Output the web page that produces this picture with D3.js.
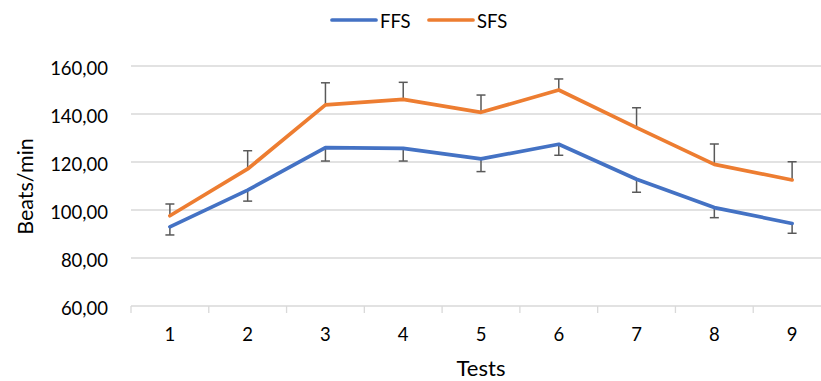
<!DOCTYPE html>
<html>
<head>
<meta charset="utf-8">
<script src="https://cdn.jsdelivr.net/npm/d3@7"></script>
<style>
  body { margin: 0; background: #fff; }
  svg { display: block; font-family: Lato, "Open Sans", sans-serif; }
</style>
</head>
<body>
<div id="chart"></div>
<script>
// chart values
var tests = ["1", "2", "3", "4", "5", "6", "7", "8", "9"];
var ffs = [93.0, 108.3, 126.0, 125.7, 121.3, 127.4, 112.8, 101.0, 94.4];
var ffsSd = [3.4, 4.6, 5.6, 5.3, 5.3, 4.6, 5.4, 4.2, 4.1];
var sfs = [97.6, 117.1, 143.8, 146.1, 140.7, 150.0, 134.3, 119.0, 112.5];
var sfsSd = [4.9, 7.6, 9.2, 7.1, 7.2, 4.6, 8.3, 8.5, 7.6];
var yTicks = [60, 80, 100, 120, 140, 160];

var width = 821, height = 381;
var plot = { left: 131, right: 831, top: 66, bottom: 306 };

var svg = d3.select("#chart").append("svg")
    .attr("width", width)
    .attr("height", height);

var x = d3.scaleBand()
    .domain(tests)
    .range([plot.left, plot.right]);

var y = d3.scaleLinear()
    .domain([60, 160])
    .range([plot.bottom, plot.top]);

var fmt = function(v) { return d3.format(".2f")(v).replace(".", ","); };

// gridlines
svg.append("g")
  .selectAll("line")
  .data(yTicks)
  .enter().append("line")
    .attr("x1", plot.left)
    .attr("x2", plot.right)
    .attr("y1", function(d) { return y(d); })
    .attr("y2", function(d) { return y(d); })
    .style("stroke", "#d9d9d9")
    .style("stroke-width", 1.3);

// y tick labels
svg.append("g")
  .selectAll("text")
  .data(yTicks)
  .enter().append("text")
    .attr("x", 108)
    .attr("y", function(d) { return y(d) + 8.5; })
    .attr("text-anchor", "end")
    .style("font-size", "18.5px")
    .style("fill", "#000")
    .text(fmt);

// x tick labels
svg.append("g")
  .selectAll("text")
  .data(tests)
  .enter().append("text")
    .attr("x", function(d) { return x(d) + x.bandwidth() / 2; })
    .attr("y", plot.bottom + 34.5)
    .attr("text-anchor", "middle")
    .style("font-size", "18.5px")
    .style("fill", "#000")
    .text(function(d) { return d; });

// small ticks between categories
var bounds = tests.map(function(d) { return x(d); }).concat([plot.right]);
svg.append("g")
  .selectAll("line")
  .data(bounds)
  .enter().append("line")
    .attr("x1", function(d) { return d; })
    .attr("x2", function(d) { return d; })
    .attr("y1", plot.bottom)
    .attr("y2", plot.bottom + 7)
    .style("stroke", "#d9d9d9")
    .style("stroke-width", 1.3);

// axis titles
svg.append("text")
    .attr("x", x("5") + x.bandwidth() / 2)
    .attr("y", 376)
    .attr("text-anchor", "middle")
    .style("font-size", "22px")
    .text("Tests");

svg.append("text")
    .attr("transform", "translate(33,186.5) rotate(-90)")
    .attr("text-anchor", "middle")
    .style("font-size", "21.5px")
    .text("Beats/min");

var cx = function(d, i) { return x(tests[i]) + x.bandwidth() / 2; };

// error bars: FFS below, SFS above
function errorBars(values, sds, dir) {
  var g = svg.append("g")
    .style("stroke", "#595959")
    .style("stroke-width", 1.5);
  g.selectAll(".bar")
    .data(values)
    .enter().append("line")
      .attr("x1", cx).attr("x2", cx)
      .attr("y1", function(d) { return y(d); })
      .attr("y2", function(d, i) { return y(d + dir * sds[i]); });
  g.selectAll(".cap")
    .data(values)
    .enter().append("line")
      .attr("x1", function(d, i) { return cx(d, i) - 4.5; })
      .attr("x2", function(d, i) { return cx(d, i) + 4.5; })
      .attr("y1", function(d, i) { return y(d + dir * sds[i]); })
      .attr("y2", function(d, i) { return y(d + dir * sds[i]); });
}
errorBars(ffs, ffsSd, -1);
errorBars(sfs, sfsSd, 1);

// lines
var line = d3.line()
    .x(cx)
    .y(function(d) { return y(d); });

var series = [
  { name: "FFS", values: ffs, color: "#4472c4" },
  { name: "SFS", values: sfs, color: "#ed7d31" }
];

series.forEach(function(s) {
  svg.append("path")
      .datum(s.values)
      .attr("d", line)
      .style("fill", "none")
      .style("stroke", s.color)
      .style("stroke-width", 3.7)
      .style("stroke-linejoin", "round")
      .style("stroke-linecap", "round");
});

// legend
var legendX = [332, 429];
var legend = svg.append("g")
  .selectAll("g")
  .data(series)
  .enter().append("g")
    .attr("transform", function(d, i) { return "translate(" + legendX[i] + ",20)"; });

legend.append("line")
    .attr("x1", 0).attr("x2", 44)
    .style("stroke", function(d) { return d.color; })
    .style("stroke-width", 3.7)
    .style("stroke-linecap", "round");

legend.append("text")
    .attr("x", 48)
    .attr("y", 8.3)
    .style("font-size", "18.5px")
    .text(function(d) { return d.name; });
</script>
</body>
</html>
